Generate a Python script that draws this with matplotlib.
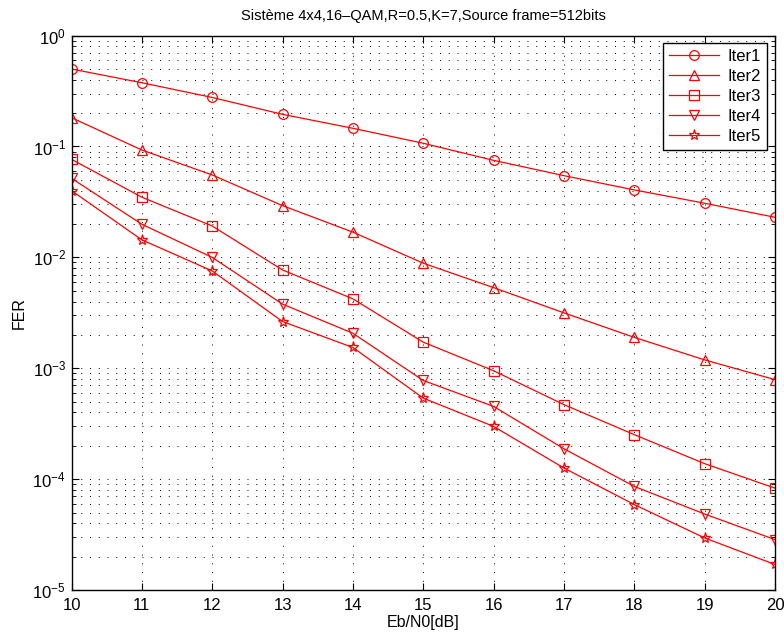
import numpy as np
import matplotlib.pyplot as plt
from matplotlib.ticker import LogLocator, NullFormatter

plt.rcParams['font.family'] = ['Liberation Sans', 'DejaVu Sans']
plt.rcParams['mathtext.fontset'] = 'custom'
plt.rcParams['mathtext.rm'] = 'Liberation Sans'

ebn0 = [10, 11, 12, 13, 14, 15, 16, 17, 18, 19, 20]

iter1 = [0.50, 0.376, 0.277, 0.195, 0.146, 0.107, 0.075, 0.0546, 0.0406, 0.0308, 0.023]
iter2 = [0.182, 0.093, 0.0554, 0.0293, 0.0169, 0.00886, 0.00534, 0.00316, 0.0019, 0.00119, 0.00079]
iter3 = [0.0766, 0.0349, 0.0192, 0.0077, 0.00423, 0.00172, 0.00095, 0.00047, 0.000252, 0.000138, 8.3e-5]
iter4 = [0.0517, 0.0199, 0.0100, 0.00379, 0.00207, 0.000776, 0.000453, 0.000188, 8.6e-5, 4.85e-5, 2.85e-5]
iter5 = [0.040, 0.0144, 0.00755, 0.00264, 0.00154, 0.000538, 0.000299, 0.000126, 5.9e-5, 2.95e-5, 1.7e-5]

series = [("Iter1", iter1, "o"), ("Iter2", iter2, "^"), ("Iter3", iter3, "s"),
          ("Iter4", iter4, "v"), ("Iter5", iter5, "*")]

fig = plt.figure(figsize=(7.84, 6.36), dpi=100)
ax = fig.add_axes([0.0912, 0.0723, 0.8973, 0.8717])

for name, vals, mk in series:
    ms = 8 if mk == "*" else 7
    ax.semilogy(ebn0, vals, color="red", marker=mk, markersize=ms,
                markerfacecolor="none", markeredgecolor="red",
                linewidth=0.9, markeredgewidth=0.9, label=name)

ax.set_xlim(10, 20)
ax.set_ylim(1e-5, 1)
ax.set_xticks(ebn0)
ax.yaxis.set_major_locator(LogLocator(base=10, numticks=10))
ax.yaxis.set_minor_locator(LogLocator(base=10, subs=np.arange(2, 10), numticks=10))
ax.yaxis.set_minor_formatter(NullFormatter())

ax.grid(True, which="major", linestyle=(0, (1, 8)), color="black", linewidth=0.7)
ax.grid(True, which="minor", axis="y", linestyle=(0, (1, 8)), color="black", linewidth=0.7)

ax.tick_params(which="both", direction="in", top=True, right=True, labelsize=12)
ax.tick_params(which="major", length=5)
ax.tick_params(which="minor", length=3)
ax.tick_params(axis="x", pad=6)
ax.tick_params(axis="y", pad=4)
for s in ax.spines.values():
    s.set_linewidth(1.0)

ax.set_title("Sistème 4x4,16\u2013QAM,R=0.5,K=7,Source frame=512bits", fontsize=10.5, pad=11)
ax.set_xlabel("Eb/N0[dB]", fontsize=11.5, labelpad=1.5)
ax.set_ylabel("FER", fontsize=11.5)

leg = ax.legend(loc="upper right", fontsize=12, fancybox=False, framealpha=1,
                edgecolor="black", handlelength=3.0, borderpad=0.35,
                labelspacing=0.3, handletextpad=0.5, borderaxespad=0,
                bbox_to_anchor=(0.9886, 0.9865))
leg.get_frame().set_linewidth(1.0)

fig.savefig("out.png", dpi=100)
